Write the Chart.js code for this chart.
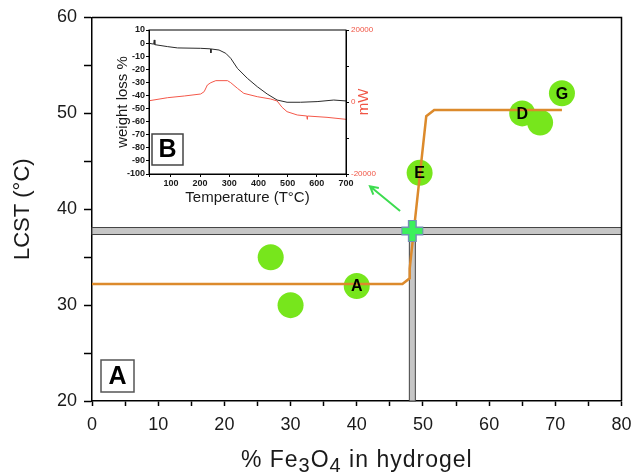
<!DOCTYPE html>
<html>
<head>
<meta charset="utf-8">
<script src="https://cdn.jsdelivr.net/npm/chart.js@4.4.0/dist/chart.umd.min.js"></script>
<style>
  html, body { margin: 0; padding: 0; background: #fff; }
  #wrap { position: relative; width: 633px; height: 473px; }
  #mainChart { position: absolute; left: 0; top: 0; }
  #insetChart { position: absolute; left: 100px; top: 20px; }
</style>
</head>
<body>
<div id="wrap">
  <canvas id="mainChart" width="633" height="473"></canvas>
  <canvas id="insetChart" width="282" height="190"></canvas>
</div>
<script>
// ---- main panel (A): LCST vs % Fe3O4 ----
const sampleX = [27, 30, 40, 49.5, 65, 67.7, 71];
const sampleY = [35, 30, 32, 43.8, 50, 49.05, 52.1];
const sampleNames = ['', '', 'A', 'E', 'D', '', 'G'];

// orange guide curve
const fitX = [0, 46.9, 48.0, 48.0, 50.5, 51.7, 71];
const fitY = [32.2, 32.2, 32.8, 33.8, 49.7, 50.35, 50.35];

// crossing point (gray bars + green cross)
const crossX = 48.4;
const crossY = 37.73;

// green arrow, tail -> head
const arrowX = [46.55, 42.0];
const arrowY = [39.82, 42.4];

// ---- inset panel (B): TGA / DSC ----
const tgaTemp = [27, 41, 43, 45, 89, 123, 202, 236, 237, 238, 265, 288, 305, 328, 362, 396, 430, 464, 498, 544, 601, 658, 700];
const tgaLoss = [-0.2, -0.8, 2.4, -1.2, -2.7, -3.7, -4.0, -4.4, -7.5, -4.5, -5.3, -7.8, -11.6, -19.3, -26.9, -33.3, -38.9, -43.5, -45.2, -45.2, -44.7, -43.5, -44.2];
const dscTemp = [27, 89, 146, 202, 214, 225, 237, 254, 294, 305, 328, 350, 396, 442, 464, 481, 498, 533, 566, 567, 568, 635, 700];
const dscHeat = [370, 1200, 1670, 2220, 2870, 4720, 5370, 5930, 5930, 5370, 3800, 2400, 1480, 830, 280, -1480, -2690, -3610, -3890, -4800, -3890, -4260, -4810];

const FONT = '"Liberation Sans", Arial, sans-serif';
Chart.defaults.font.family = FONT;
Chart.defaults.color = '#1a1a1a';

const toPts = (xs, ys) => xs.map((x, i) => ({ x: x, y: ys[i] }));

// 主圖的附加繪製：灰色條、箭頭、標籤
const mainDeco = {
  id: 'mainDeco',
  beforeDatasetsDraw(chart) {
    const { ctx, chartArea: a, scales: { x, y } } = chart;
    const px = x.getPixelForValue(crossX);
    const py = y.getPixelForValue(crossY);
    ctx.save();
    ctx.fillStyle = '#c6c6c6';
    ctx.strokeStyle = '#444';
    ctx.lineWidth = 1;
    ctx.fillRect(a.left, py - 3.5, a.right - a.left, 7);
    ctx.strokeRect(a.left, py - 3.5, a.right - a.left, 7);
    ctx.fillRect(px - 3, py + 3.5, 6, a.bottom - py - 3.5);
    ctx.strokeRect(px - 3, py + 3.5, 6, a.bottom - py - 3.5);
    ctx.restore();
  },
  afterDatasetsDraw(chart) {
    const { ctx, chartArea: a, scales: { x, y } } = chart;
    ctx.save();
    // frame top/right
    ctx.strokeStyle = '#000';
    ctx.lineWidth = 1.5;
    ctx.beginPath();
    ctx.moveTo(a.left, a.top);
    ctx.lineTo(a.right, a.top);
    ctx.lineTo(a.right, a.bottom);
    ctx.stroke();

    // letters on the circles
    ctx.fillStyle = '#000';
    ctx.font = 'bold 16px ' + FONT;
    ctx.textAlign = 'center';
    ctx.textBaseline = 'middle';
    sampleNames.forEach((n, i) => {
      if (!n) return;
      ctx.fillText(n, x.getPixelForValue(sampleX[i]), y.getPixelForValue(sampleY[i]) + 1);
    });

    // arrow
    const x0 = x.getPixelForValue(arrowX[0]), y0 = y.getPixelForValue(arrowY[0]);
    const x1 = x.getPixelForValue(arrowX[1]), y1 = y.getPixelForValue(arrowY[1]);
    const ang = Math.atan2(y1 - y0, x1 - x0);
    ctx.strokeStyle = '#3ddc50';
    ctx.lineWidth = 2;
    ctx.beginPath();
    ctx.moveTo(x0, y0);
    ctx.lineTo(x1, y1);
    ctx.moveTo(x1 - 9 * Math.cos(ang - 0.5), y1 - 9 * Math.sin(ang - 0.5));
    ctx.lineTo(x1, y1);
    ctx.lineTo(x1 - 9 * Math.cos(ang + 0.5), y1 - 9 * Math.sin(ang + 0.5));
    ctx.stroke();

    // panel label A
    ctx.fillStyle = '#fff';
    ctx.strokeStyle = '#555';
    ctx.lineWidth = 1.5;
    ctx.fillRect(a.left + 9, a.bottom - 41, 33, 32);
    ctx.strokeRect(a.left + 9, a.bottom - 41, 33, 32);
    ctx.fillStyle = '#000';
    ctx.font = 'bold 25px ' + FONT;
    ctx.fillText('A', a.left + 25.5, a.bottom - 24);

    // x axis title with subscripts
    const parts = [['% Fe', 23, 0], ['3', 20, 5], ['O', 23, 0], ['4', 20, 5], [' in hydrogel', 23, 0]];
    ctx.letterSpacing = '1px';
    ctx.textAlign = 'left';
    ctx.textBaseline = 'alphabetic';
    let w = 0;
    parts.forEach(p => { ctx.font = p[1] + 'px ' + FONT; w += ctx.measureText(p[0]).width; });
    let cx = (a.left + a.right) / 2 - w / 2;
    ctx.fillStyle = '#1a1a1a';
    parts.forEach(p => {
      ctx.font = p[1] + 'px ' + FONT;
      ctx.fillText(p[0], cx, 467 + p[2]);
      cx += ctx.measureText(p[0]).width;
    });
    ctx.restore();
  }
};

const mainChart = new Chart(document.getElementById('mainChart'), {
  type: 'scatter',
  data: {
    datasets: [
      {
        data: [{ x: crossX, y: crossY }],
        pointStyle: 'cross', pointRadius: 10,
        pointBorderWidth: 6, pointBorderColor: '#3cf05c'
      },
      {
        data: [{ x: crossX, y: crossY }],
        pointStyle: 'cross', pointRadius: 11,
        pointBorderWidth: 9, pointBorderColor: '#7391b4'
      },
      {
        data: toPts(fitX, fitY),
        showLine: true,
        borderColor: '#dc8a2c',
        borderWidth: 2.5,
        pointRadius: 0
      },
      {
        data: toPts(sampleX, sampleY),
        pointRadius: 13,
        pointBackgroundColor: '#77e61c',
        pointBorderWidth: 0
      }
    ]
  },
  options: {
    responsive: false,
    animation: false,
    events: [],
    layout: { autoPadding: false, padding: { top: 17.5, right: 11.5, left: 0, bottom: 0 } },
    plugins: { legend: { display: false }, tooltip: { enabled: false } },
    scales: {
      x: {
        type: 'linear', min: 0, max: 80,
        ticks: {
          stepSize: 5, autoSkip: false, maxRotation: 0, padding: 8,
          font: { size: 18 },
          callback: v => (v % 10 === 0 ? v : '')
        },
        grid: { drawOnChartArea: false, tickLength: 5, color: '#000', tickWidth: 1.5 },
        border: { color: '#000', width: 1.5 },
        afterFit: s => { s.height = 72; s.paddingLeft = 0; s.paddingRight = 0; }
      },
      y: {
        type: 'linear', min: 20, max: 60,
        ticks: {
          stepSize: 5, autoSkip: false, padding: 7,
          font: { size: 18 },
          callback: v => (v % 10 === 0 ? v : '')
        },
        grid: { drawOnChartArea: false, tickLength: 8, color: '#000', tickWidth: 1.5 },
        border: { color: '#000', width: 1.5 },
        title: { display: true, text: 'LCST (°C)', font: { size: 22 }, padding: { top: 10, bottom: 0 } },
        afterFit: s => { s.width = 92; s.paddingTop = 0; s.paddingBottom = 0; }
      }
    }
  },
  plugins: [mainDeco]
});

// 插圖的框線、B 標籤、mW 標題
const insetDeco = {
  id: 'insetDeco',
  afterDatasetsDraw(chart) {
    const { ctx, chartArea: a } = chart;
    ctx.save();
    ctx.strokeStyle = '#000';
    ctx.lineWidth = 1;
    ctx.strokeRect(a.left, a.top, a.right - a.left, a.bottom - a.top);

    ctx.fillStyle = '#fff';
    ctx.strokeStyle = '#444';
    ctx.lineWidth = 1.5;
    ctx.fillRect(a.left + 3, a.bottom - 40, 31, 31);
    ctx.strokeRect(a.left + 3, a.bottom - 40, 31, 31);
    ctx.fillStyle = '#000';
    ctx.font = 'bold 25px ' + FONT;
    ctx.textAlign = 'center';
    ctx.textBaseline = 'middle';
    ctx.fillText('B', a.left + 18.5, a.bottom - 23.5);

    ctx.translate(a.right + 17.5, (a.top + a.bottom) / 2);
    ctx.rotate(-Math.PI / 2);
    ctx.fillStyle = '#f05545';
    ctx.font = '15px ' + FONT;
    ctx.fillText('mW', 0, 0);
    ctx.restore();
  }
};

const insetChart = new Chart(document.getElementById('insetChart'), {
  type: 'line',
  data: {
    datasets: [
      {
        data: toPts(tgaTemp, tgaLoss),
        yAxisID: 'y',
        borderColor: '#2a2a2a',
        borderWidth: 1,
        pointRadius: 0
      },
      {
        data: toPts(dscTemp, dscHeat),
        yAxisID: 'y1',
        borderColor: '#f4584a',
        borderWidth: 1,
        pointRadius: 0
      }
    ]
  },
  options: {
    responsive: false,
    animation: false,
    events: [],
    layout: { autoPadding: false, padding: { top: 10, right: 0, left: 0, bottom: 0 } },
    plugins: { legend: { display: false }, tooltip: { enabled: false } },
    scales: {
      x: {
        type: 'linear', min: 25, max: 700,
        ticks: {
          stepSize: 100, autoSkip: false, maxRotation: 0, padding: 1,
          font: { size: 9, weight: 'bold' },
          callback: v => (v % 100 === 0 ? v : '')
        },
        grid: { drawOnChartArea: false, tickLength: 3, color: '#000' },
        border: { color: '#000', width: 1 },
        title: { display: true, text: 'Temperature (T°C)', font: { size: 15 }, padding: { top: 0, bottom: 3 } },
        afterFit: s => { s.height = 36; }
      },
      y: {
        type: 'linear', min: -100, max: 10,
        ticks: { stepSize: 10, autoSkip: false, padding: 1, font: { size: 9, weight: 'bold' } },
        grid: { drawOnChartArea: false, tickLength: 3, color: '#000' },
        border: { color: '#000', width: 1 },
        title: { display: true, text: 'weight loss %', font: { size: 15 }, padding: { top: 14, bottom: 0 } },
        afterFit: s => { s.width = 49; }
      },
      y1: {
        type: 'linear', position: 'right', min: -20000, max: 20000,
        ticks: {
          stepSize: 10000, autoSkip: false, padding: 2, color: '#f05545',
          font: { size: 8 },
          callback: v => (v % 20000 === 0 ? v : '')
        },
        grid: { drawOnChartArea: false, tickLength: 3, color: '#000' },
        border: { color: '#000', width: 1 },
        afterFit: s => { s.width = 36; }
      }
    }
  },
  plugins: [insetDeco]
});
</script>
</body>
</html>
